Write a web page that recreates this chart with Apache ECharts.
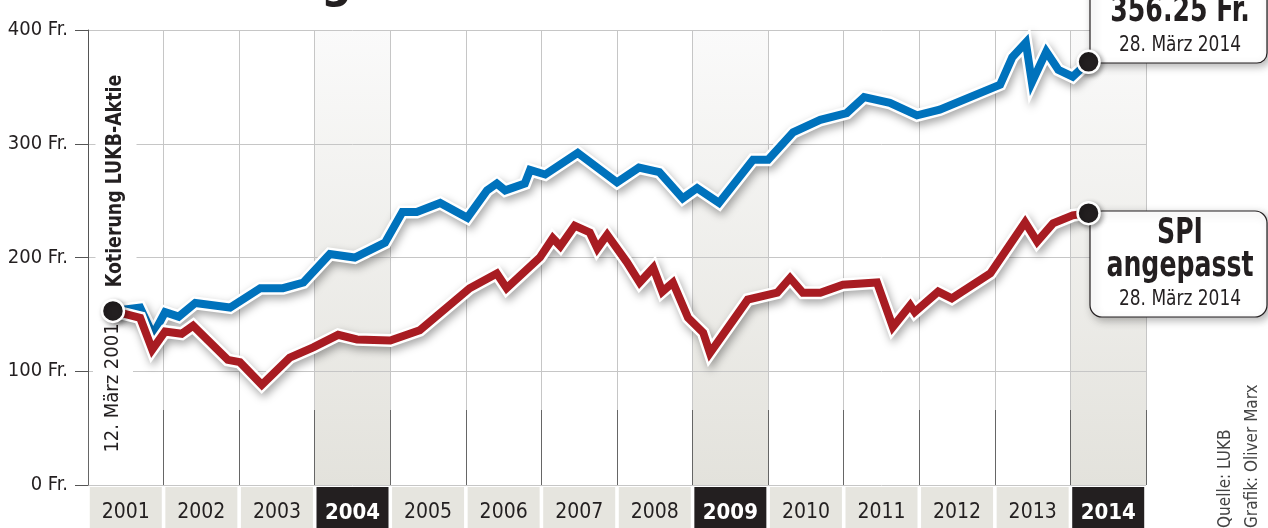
<!DOCTYPE html>
<html>
<head>
<meta charset="utf-8">
<script src="https://cdn.jsdelivr.net/npm/echarts@6/dist/echarts.min.js"></script>
<style>
  html, body { margin: 0; padding: 0; background: #fff; }
  #chart { width: 1268px; height: 528px; }
</style>
</head>
<body>
<div id="chart"></div>
<script>
// Jahre auf der x-Achse
const years = ['2001', '2002', '2003', '2004', '2005', '2006', '2007',
  '2008', '2009', '2010', '2011', '2012', '2013', '2014'];
const highlightYears = ['2004', '2009', '2014'];
const yTicks = [0, 100, 200, 300, 400];

// [Jahr (dezimal), Kurs in Fr.]
const lukb = [
  [2001.33, 153], [2001.69, 156], [2001.86, 132], [2002.02, 152], [2002.20, 148],
  [2002.42, 160], [2002.88, 156], [2003.28, 173], [2003.58, 173], [2003.85, 178],
  [2004.20, 203], [2004.53, 200], [2004.93, 213], [2005.16, 240], [2005.35, 240],
  [2005.66, 248], [2006.02, 235], [2006.28, 259], [2006.41, 265], [2006.52, 259],
  [2006.78, 265], [2006.85, 277], [2007.05, 273], [2007.48, 292], [2008.00, 266],
  [2008.29, 279], [2008.56, 275], [2008.87, 252], [2009.06, 261], [2009.35, 248],
  [2009.80, 286], [2010.00, 286], [2010.33, 310], [2010.69, 321], [2011.04, 327],
  [2011.27, 341], [2011.61, 336], [2011.97, 325], [2012.27, 330], [2013.07, 352],
  [2013.23, 376], [2013.41, 389], [2013.49, 354], [2013.68, 381], [2013.84, 365],
  [2014.03, 359], [2014.24, 372]
];
const spi = [
  [2001.33, 153], [2001.69, 147], [2001.85, 119], [2002.02, 135], [2002.24, 133],
  [2002.39, 140], [2002.85, 110], [2003.01, 108], [2003.30, 88], [2003.67, 112],
  [2003.98, 121], [2004.31, 132], [2004.56, 128], [2005.00, 127], [2005.39, 136],
  [2006.05, 173], [2006.41, 186], [2006.54, 173], [2006.98, 200], [2007.15, 217],
  [2007.25, 210], [2007.44, 228], [2007.64, 222], [2007.74, 208], [2007.87, 220],
  [2008.13, 196], [2008.30, 178], [2008.48, 191], [2008.60, 170], [2008.74, 178],
  [2008.94, 147], [2009.14, 134], [2009.23, 116], [2009.73, 163], [2010.12, 169],
  [2010.29, 182], [2010.46, 169], [2010.69, 169], [2010.99, 176], [2011.44, 178],
  [2011.65, 139], [2011.88, 158], [2011.94, 152], [2012.25, 170], [2012.43, 164],
  [2012.94, 186], [2013.40, 231], [2013.56, 214], [2013.77, 230], [2014.03, 237],
  [2014.24, 239]
];

const FONT = '"Liberation Sans Narrow", "DejaVu Sans Condensed", "Roboto", sans-serif';
const BLUE = '#0072bc';
const RED = '#a81c22';
const DARK = '#231f20';

const chart = echarts.init(document.getElementById('chart'));

function halo(data, z) {
  return {
    type: 'line', data, z, silent: true, showSymbol: false,
    lineStyle: {
      color: '#fff', width: 13, join: 'miter',
      shadowColor: 'rgba(0,0,0,0.35)', shadowBlur: 8, shadowOffsetX: 2, shadowOffsetY: 4,
    },
  };
}
function stroke(data, color, z) {
  return {
    type: 'line', data, z, silent: true, showSymbol: false,
    lineStyle: { color, width: 8, join: 'miter' },
  };
}
// Text im Callout, horizontal etwas gestaucht (condensed)
function txt(text, x, y, font, sx) {
  return {
    type: 'text', x, y, z: 12, scaleX: sx || 1,
    style: { text, font, fill: DARK, align: 'center', verticalAlign: 'middle' },
  };
}

const option = {
  animation: false,
  grid: { left: 88, right: 122, top: 30, bottom: 43, outerBoundsMode: 'none' },
  xAxis: [
    {
      type: 'value', min: 2001, max: 2015, interval: 1, z: 2,
      axisLabel: { show: false },
      axisLine: { show: false },
      axisTick: { show: true, inside: true, length: 75, lineStyle: { color: '#666' } },
      splitLine: { show: true, lineStyle: { color: '#c6c6c6' } },
    },
    {
      type: 'category', data: years, boundaryGap: true, position: 'bottom', z: 2,
      axisLine: { show: false },
      axisTick: { show: false },
      splitLine: { show: false },
      axisLabel: {
        interval: 0,
        margin: 2,
        formatter: (v) => (highlightYears.includes(v) ? '{hi|' + v + '}' : '{n|' + v + '}'),
        rich: {
          n: {
            width: 72, height: 52, lineHeight: 52, align: 'center',
            backgroundColor: '#e6e5df', color: DARK, fontSize: 21, fontFamily: FONT,
          },
          hi: {
            width: 72, height: 52, lineHeight: 52, align: 'center',
            backgroundColor: DARK, color: '#fff', fontSize: 22, fontWeight: 'bold', fontFamily: FONT,
          },
        },
      },
    },
  ],
  yAxis: {
    type: 'value', min: yTicks[0], max: yTicks[yTicks.length - 1], interval: 100, z: 2,
    axisLine: { show: true, lineStyle: { color: '#555' } },
    axisTick: { show: true, length: 13, lineStyle: { color: '#555' } },
    splitLine: { show: true, lineStyle: { color: '#c6c6c6' } },
    axisLabel: {
      formatter: (v) => v + ' Fr.', margin: 20,
      color: DARK, fontSize: 20, fontFamily: FONT,
    },
  },
  series: [
    {
      type: 'line', data: [], z: 0, silent: true,
      markArea: {
        silent: true,
        itemStyle: {
          color: new echarts.graphic.LinearGradient(0, 0, 0, 1, [
            { offset: 0, color: '#fafafa' },
            { offset: 1, color: '#e3e2dc' },
          ]),
        },
        data: highlightYears.map((y) => [{ xAxis: +y }, { xAxis: +y + 1 }]),
      },
    },
    halo(lukb, 5),
    stroke(lukb, BLUE, 6),
    halo(spi, 7),
    stroke(spi, RED, 8),
    {
      type: 'scatter', z: 20, silent: true,
      symbolSize: 22,
      itemStyle: {
        color: DARK, opacity: 1, borderColor: '#fff', borderWidth: 2.5,
        shadowColor: 'rgba(0,0,0,0.35)', shadowBlur: 5, shadowOffsetX: 2, shadowOffsetY: 2,
      },
      data: [spi[0], lukb[lukb.length - 1], spi[spi.length - 1]],
    },
  ],
  graphic: [
    // Titel (oben abgeschnitten)
    {
      type: 'text', x: 352, y: 9, z: 3,
      style: { text: 'Kursentwicklung', font: 'bold 48px ' + FONT, fill: DARK, align: 'right', verticalAlign: 'bottom' },
    },
    {
      type: 'text', x: 116, y: 181, rotation: Math.PI / 2, z: 3, scaleX: 0.92,
      style: {
        text: 'Kotierung LUKB-Aktie', font: 'bold 21px ' + FONT, fill: DARK,
        align: 'center', verticalAlign: 'middle', backgroundColor: '#fff', padding: [10, 4],
      },
    },
    {
      type: 'text', x: 113, y: 388, rotation: Math.PI / 2, z: 3,
      style: {
        text: '12. März 2001', font: '20px ' + FONT, fill: DARK,
        align: 'center', verticalAlign: 'middle', backgroundColor: '#fff', padding: [10, 4],
      },
    },
    // Callout LUKB
    {
      type: 'rect', z: 10,
      shape: { x: 1090, y: -20, width: 177, height: 83, r: 10 },
      style: {
        fill: '#fff', stroke: DARK, lineWidth: 1.2,
        shadowColor: 'rgba(0,0,0,0.3)', shadowBlur: 8, shadowOffsetX: 3, shadowOffsetY: 3,
      },
    },
    txt('356.25 Fr.', 1180, 12, 'bold 35px ' + FONT, 0.8),
    txt('28. März 2014', 1180, 46, '21px ' + FONT, 0.9),
    // Callout SPI
    {
      type: 'rect', z: 10,
      shape: { x: 1090, y: 211, width: 177, height: 106, r: 12 },
      style: {
        fill: '#fff', stroke: DARK, lineWidth: 1.2,
        shadowColor: 'rgba(0,0,0,0.3)', shadowBlur: 8, shadowOffsetX: 3, shadowOffsetY: 3,
      },
    },
    txt('SPI', 1180, 234, 'bold 35px ' + FONT, 0.8),
    txt('angepasst', 1180, 267, 'bold 35px ' + FONT, 0.8),
    txt('28. März 2014', 1180, 300, '21px ' + FONT, 0.9),
    // Quelle
    {
      type: 'text', x: 1226, y: 528, rotation: Math.PI / 2, z: 3,
      style: { text: 'Quelle: LUKB', font: '17px ' + FONT, fill: '#444', align: 'left', verticalAlign: 'middle' },
    },
    {
      type: 'text', x: 1253, y: 528, rotation: Math.PI / 2, z: 3,
      style: { text: 'Grafik: Oliver Marx', font: '17px ' + FONT, fill: '#444', align: 'left', verticalAlign: 'middle' },
    },
  ],
};

chart.setOption(option);
</script>
</body>
</html>
